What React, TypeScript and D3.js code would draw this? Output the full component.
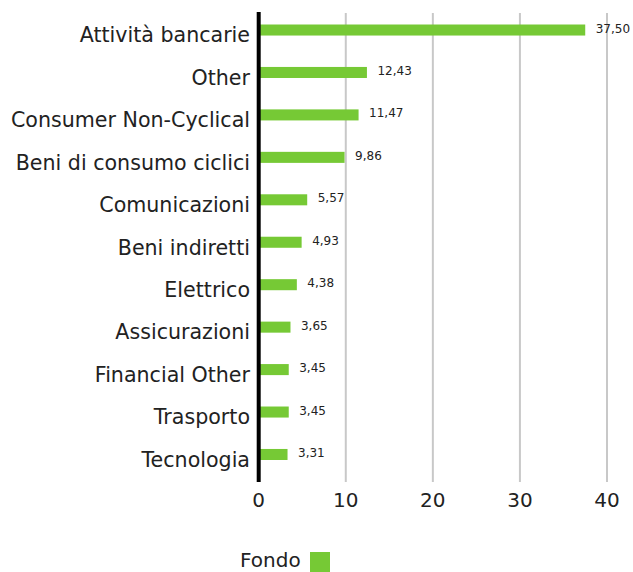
import React from "react";
import * as d3 from "d3";

const categories = [
  "Attività bancarie",
  "Other",
  "Consumer Non-Cyclical",
  "Beni di consumo ciclici",
  "Comunicazioni",
  "Beni indiretti",
  "Elettrico",
  "Assicurazioni",
  "Financial Other",
  "Trasporto",
  "Tecnologia",
];
const values = [37.5, 12.43, 11.47, 9.86, 5.57, 4.93, 4.38, 3.65, 3.45, 3.45, 3.31];
const xTicks = [0, 10, 20, 30, 40];
const seriesName = "Fondo";

const W = 633;
const H = 572;
const FONT = "'DejaVu Sans', sans-serif";
const GREEN = "#76c935";

export default function App() {
  const x = d3.scaleLinear().domain([0, 40]).range([258.7, 607]);
  const y = d3.scaleBand<string>().domain(categories).range([8.8, 475.7]).paddingInner(0.74).paddingOuter(0.37);
  const plotTop = 12;
  const plotBottom = 482;
  const fmt = (v: number) => v.toFixed(2).replace(".", ",");
  return (
    <svg
      width={W}
      height={H}
      style={{ position: "absolute", left: 0, top: 0, background: "#fff" }}
      fontFamily={FONT}
    >
      {xTicks.filter((t) => t !== 0).map((t) => (
        <line key={"g" + t} x1={x(t)} x2={x(t)} y1={plotTop + 1} y2={plotBottom} stroke="#c8c8c8" strokeWidth={2} />
      ))}
      {categories.map((c, i) => {
        const cy = (y(c) as number) + y.bandwidth() / 2;
        return (
          <g key={c}>
            <rect x={x(0)} y={y(c)} width={x(values[i]) - x(0)} height={y.bandwidth()} fill={GREEN} />
            <text x={x(values[i]) + 10.5} y={cy + 2.5} fontSize={12} fill="#222">
              {fmt(values[i])}
            </text>
            <text x={250} y={cy + 12.3} fontSize={20.6} textAnchor="end" fill="#222">
              {c}
            </text>
          </g>
        );
      })}
      <line x1={x(0)} x2={x(0)} y1={plotTop} y2={plotBottom} stroke="#000" strokeWidth={4} />
      {xTicks.map((t) => (
        <text key={"t" + t} x={x(t)} y={507} fontSize={20} textAnchor="middle" fill="#222">
          {t}
        </text>
      ))}
      <text x={240} y={566.5} fontSize={20} fill="#222">
        {seriesName}
      </text>
      <rect x={310} y={552} width={20} height={20} fill={GREEN} />
    </svg>
  );
}
